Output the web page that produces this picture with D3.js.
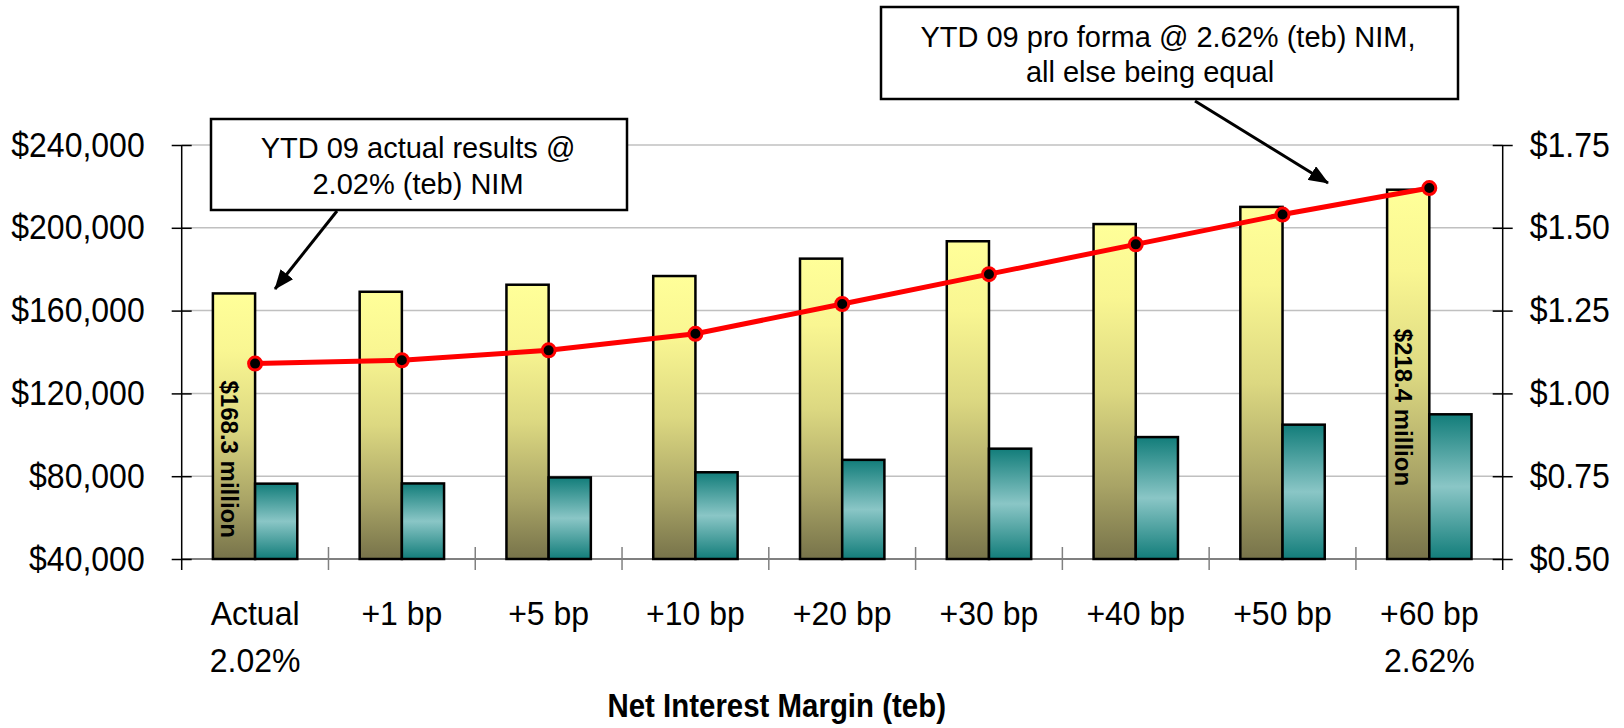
<!DOCTYPE html>
<html>
<head>
<meta charset="utf-8">
<script src="https://cdn.jsdelivr.net/npm/d3@7"></script>
<style>
  html, body { margin: 0; padding: 0; background: #fff; }
  svg { display: block; font-family: "Liberation Sans", Arial, sans-serif; }
</style>
</head>
<body>
<svg id="chart" width="1624" height="728"></svg>
<script>
// Net interest margin scenarios
const categories = ["Actual", "+1 bp", "+5 bp", "+10 bp", "+20 bp", "+30 bp", "+40 bp", "+50 bp", "+60 bp"];
const subLabels  = ["2.02%", "", "", "", "", "", "", "", "2.62%"];

// Left axis series ($ thousands)
const revenue   = [168300, 169100, 172500, 176700, 185100, 193500, 201800, 210100, 218400];
const netIncome = [76400, 76500, 79400, 81900, 87900, 93300, 98900, 104900, 109900];
// Right axis series ($ per share)
const eps = [1.09, 1.10, 1.13, 1.18, 1.27, 1.36, 1.45, 1.54, 1.62];

// Bars that carry an inline value label
const labelledBars = [0, 8];

const leftTicks  = [40000, 80000, 120000, 160000, 200000, 240000];
const rightTicks = [0.50, 0.75, 1.00, 1.25, 1.50, 1.75];

const axisTitle = "Net Interest Margin (teb)";
const noteActual = ["YTD 09 actual results @", "2.02% (teb) NIM"];
const noteProForma = ["YTD 09 pro forma @ 2.62% (teb) NIM,", "all else being equal"];

const svg = d3.select("#chart");

const plot = { left: 181.7, right: 1502.7, top: 145, bottom: 559 };

const x = d3.scaleBand().domain(categories).range([plot.left, plot.right]).padding(0);
const yL = d3.scaleLinear().domain([40000, 240000]).range([plot.bottom, plot.top]);
const yR = d3.scaleLinear().domain([0.5, 1.75]).range([plot.bottom, plot.top]);

const groupW = x.bandwidth() * 0.575;
const sub = d3.scaleBand().domain(["rev", "ni"]).range([0, groupW]).padding(0);
const groupOffset = (x.bandwidth() - groupW) / 2;

// Gradients
const defs = svg.append("defs");
const gY = defs.append("linearGradient").attr("id", "gradYellow")
  .attr("x1", 0).attr("y1", 0).attr("x2", 0).attr("y2", 1);
[[0, "#ffff99"], [0.22, "#f9f692"], [0.5, "#dcd881"], [0.78, "#a9a466"], [1, "#77734a"]]
  .forEach(([o, c]) => gY.append("stop").attr("offset", o).attr("stop-color", c));
const gT = defs.append("linearGradient").attr("id", "gradTeal")
  .attr("x1", 0).attr("y1", 0).attr("x2", 0).attr("y2", 1);
[[0, "#127d7a"], [0.5, "#8ac6c6"], [1, "#127d7a"]]
  .forEach(([o, c]) => gT.append("stop").attr("offset", o).attr("stop-color", c));

defs.append("marker").attr("id", "arrowHead")
  .attr("viewBox", "0 0 20 16").attr("refX", 19).attr("refY", 8)
  .attr("markerWidth", 20).attr("markerHeight", 16)
  .attr("markerUnits", "userSpaceOnUse").attr("orient", "auto")
  .append("path").attr("d", "M0,0 L20,8 L0,16 Z").attr("fill", "#000");

// Gridlines
svg.append("g").selectAll("line").data(leftTicks.slice(1)).join("line")
  .attr("x1", plot.left).attr("x2", plot.right)
  .attr("y1", d => yL(d)).attr("y2", d => yL(d))
  .attr("stroke", "#c0c0c0").attr("stroke-width", 1.5);

// Category axis
svg.append("line")
  .attr("x1", plot.left).attr("x2", plot.right)
  .attr("y1", plot.bottom).attr("y2", plot.bottom)
  .attr("stroke", "#808080").attr("stroke-width", 2);
svg.append("g").selectAll("line").data(categories.slice(1)).join("line")
  .attr("x1", d => x(d)).attr("x2", d => x(d))
  .attr("y1", plot.bottom - 12).attr("y2", plot.bottom + 11)
  .attr("stroke", "#808080").attr("stroke-width", 1.5);

const catLabels = svg.append("g").attr("font-size", 32).attr("fill", "#000").attr("text-anchor", "middle");
catLabels.selectAll("text.l1").data(categories).join("text").attr("class", "l1")
  .attr("transform", d => `translate(${x(d) + x.bandwidth() / 2},625) scale(1,1.05)`).text(d => d);
catLabels.selectAll("text.l2").data(categories).join("text").attr("class", "l2")
  .attr("transform", d => `translate(${x(d) + x.bandwidth() / 2},672) scale(1,1.05)`)
  .text((d, i) => subLabels[i]);

svg.append("text")
  .attr("transform", "translate(776.7,716.7) scale(0.92,1.05)")
  .attr("text-anchor", "middle").attr("font-size", 32).attr("font-weight", "bold")
  .text(axisTitle);

// Bars
const bars = svg.append("g");
bars.selectAll("rect.rev").data(revenue).join("rect").attr("class", "rev")
  .attr("x", (d, i) => x(categories[i]) + groupOffset + sub("rev"))
  .attr("y", d => yL(d)).attr("width", sub.bandwidth())
  .attr("height", d => yL.range()[0] - yL(d))
  .attr("fill", "url(#gradYellow)").attr("stroke", "#000").attr("stroke-width", 2.5);
bars.selectAll("rect.ni").data(netIncome).join("rect").attr("class", "ni")
  .attr("x", (d, i) => x(categories[i]) + groupOffset + sub("ni"))
  .attr("y", d => yL(d)).attr("width", sub.bandwidth())
  .attr("height", d => yL.range()[0] - yL(d))
  .attr("fill", "url(#gradTeal)").attr("stroke", "#000").attr("stroke-width", 2.5);

// Inline value labels on selected revenue bars
svg.append("g").selectAll("text").data(labelledBars).join("text")
  .attr("transform", i => {
    const bx = x(categories[i]) + groupOffset + sub("rev") + 8;
    const by = (yL(revenue[i]) + plot.bottom) / 2 + 33;
    return `translate(${bx},${by}) rotate(90)`;
  })
  .attr("text-anchor", "middle").attr("font-size", 24).attr("font-weight", "bold")
  .text(i => `$${(revenue[i] / 1000).toFixed(1)} million`);

// Left axis
const axL = svg.append("g").attr("transform", `translate(${plot.left},0)`)
  .call(d3.axisLeft(yL).tickValues(leftTicks).tickSize(10).tickSizeOuter(0).tickPadding(27)
    .tickFormat(d => "$" + d3.format(",")(d)));
axL.select(".domain").remove();
axL.selectAll(".tick line").attr("x1", 10).attr("x2", -10).attr("stroke", "#000").attr("stroke-width", 1.5);
axL.selectAll(".tick text").attr("font-size", 32).attr("fill", "#000")
  .attr("font-family", "Liberation Sans, Arial, sans-serif")
  .attr("transform", "scale(1,1.09)");
axL.append("line").attr("x1", 0).attr("x2", 0).attr("y1", plot.top).attr("y2", plot.bottom + 11)
  .attr("stroke", "#000").attr("stroke-width", 1.5);

// Right axis
const axR = svg.append("g").attr("transform", `translate(${plot.right},0)`)
  .call(d3.axisRight(yR).tickValues(rightTicks).tickSize(10).tickSizeOuter(0).tickPadding(17)
    .tickFormat(d => "$" + d3.format(".2f")(d)));
axR.select(".domain").remove();
axR.selectAll(".tick line").attr("x1", -10).attr("x2", 10).attr("stroke", "#000").attr("stroke-width", 1.5);
axR.selectAll(".tick text").attr("font-size", 32).attr("fill", "#000")
  .attr("font-family", "Liberation Sans, Arial, sans-serif")
  .attr("transform", "scale(1,1.09)");
axR.append("line").attr("x1", 0).attr("x2", 0).attr("y1", plot.top).attr("y2", plot.bottom + 11)
  .attr("stroke", "#000").attr("stroke-width", 1.5);

// EPS line
const cx = (d, i) => x(categories[i]) + x.bandwidth() / 2;
svg.append("path").datum(eps)
  .attr("d", d3.line().x(cx).y(d => yR(d)))
  .attr("fill", "none").attr("stroke", "#ff0000").attr("stroke-width", 5);
svg.append("g").selectAll("circle").data(eps).join("circle")
  .attr("cx", cx).attr("cy", d => yR(d)).attr("r", 6.5)
  .attr("fill", "#000").attr("stroke", "#ff0000").attr("stroke-width", 3);

// Callouts
function callout(box, lines, lineX, baselines, arrow) {
  const g = svg.append("g");
  g.append("line")
    .attr("x1", arrow[0]).attr("y1", arrow[1]).attr("x2", arrow[2]).attr("y2", arrow[3])
    .attr("stroke", "#000").attr("stroke-width", 3).attr("marker-end", "url(#arrowHead)");
  g.append("rect").attr("x", box[0]).attr("y", box[1]).attr("width", box[2]).attr("height", box[3])
    .attr("fill", "#fff").attr("stroke", "#000").attr("stroke-width", 2.5);
  g.selectAll("text").data(lines).join("text")
    .attr("transform", (d, i) => `translate(${lineX[i]},${baselines[i]}) scale(1,1.04)`)
    .attr("text-anchor", "middle").attr("font-size", 29).attr("fill", "#000")
    .text(d => d);
}
callout([211, 119, 416, 91], noteActual, [418, 418], [158, 194], [337, 211, 275, 289]);
callout([881, 7, 577, 92], noteProForma, [1168, 1150], [47, 82], [1195, 101, 1328, 183]);
</script>
</body>
</html>
